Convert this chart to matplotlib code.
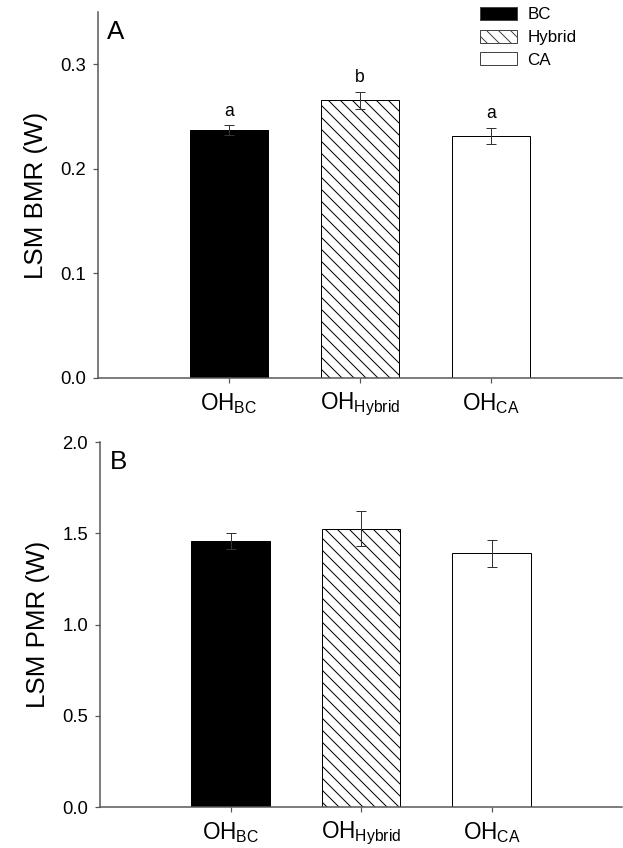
import matplotlib
matplotlib.use("Agg")
import matplotlib.pyplot as plt
from matplotlib.patches import Patch

plt.rcParams['font.family'] = ['Liberation Sans', 'DejaVu Sans']
plt.rcParams['mathtext.fontset'] = 'custom'
plt.rcParams['mathtext.rm'] = 'Liberation Sans'
plt.rcParams['mathtext.it'] = 'Liberation Sans'
plt.rcParams['hatch.linewidth'] = 1.0

categories = [r'OH$_{\mathrm{BC}}$', r'OH$_{\mathrm{Hybrid}}$', r'OH$_{\mathrm{CA}}$']
legend_labels = ['BC', 'Hybrid', 'CA']
bmr_values = [0.237, 0.2655, 0.2315]
bmr_errors = [0.0045, 0.008, 0.008]
bmr_letters = ['a', 'b', 'a']
pmr_values = [1.455, 1.526, 1.390]
pmr_errors = [0.044, 0.097, 0.073]
bmr_ticks = [0.0, 0.1, 0.2, 0.3]
pmr_ticks = [0.0, 0.5, 1.0, 1.5, 2.0]

DPI = 72
fig = plt.figure(figsize=(623 / DPI, 848 / DPI), dpi=DPI)

W, H = 623, 848
axA = fig.add_axes([98 / W, 1 - 378 / H, 524 / W, 366 / H])
axB = fig.add_axes([100 / W, 1 - 807 / H, 522 / W, 365 / H])

faces = ['black', 'white', 'white']
hatches = [None, '\\\\', None]
spine_col = '#555555'
x = [1, 2, 3]


def draw(ax, vals, errs, ticks, ylabel, letter, ymax):
    for xi, v, e, fc, h in zip(x, vals, errs, faces, hatches):
        ax.bar(xi, v, width=0.6, color=fc, edgecolor='black', linewidth=1.0,
               hatch=h, zorder=2)
    ax.errorbar(x, vals, yerr=errs, fmt='none', ecolor='#333333',
                elinewidth=1.0, capsize=5, capthick=1.0, zorder=3)
    ax.set_xlim(0, 4)
    ax.set_ylim(0, ymax)
    ax.set_xticks(x)
    ax.set_xticklabels(categories, fontsize=22.5)
    ax.set_yticks(ticks)
    ax.set_yticklabels([f'{t:.1f}' for t in ticks], fontsize=18.5)
    ax.set_ylabel(ylabel, fontsize=26, labelpad=12)
    for s in ['top', 'right']:
        ax.spines[s].set_visible(False)
    for s in ['left', 'bottom']:
        ax.spines[s].set_color(spine_col)
        ax.spines[s].set_linewidth(1.5)
    ax.tick_params(axis='both', direction='out', length=5, width=1.2,
                   color=spine_col)
    ax.tick_params(axis='x', pad=8)
    ax.tick_params(axis='y', pad=7)
    ax.text(0.018, 0.978, letter, transform=ax.transAxes, fontsize=26,
            ha='left', va='top')


draw(axA, bmr_values, bmr_errors, bmr_ticks, 'LSM BMR (W)', 'A', 0.35)
draw(axB, pmr_values, pmr_errors, pmr_ticks, 'LSM PMR (W)', 'B', 2.0)

for xi, v, e, lab in zip(x, bmr_values, bmr_errors, bmr_letters):
    axA.annotate(lab, xy=(xi, v + e), xytext=(0, 14), textcoords='offset points',
                 ha='center', va='center', fontsize=17.5)

handles = [Patch(facecolor=fc, edgecolor='#444444', hatch=h, linewidth=1.0)
           for fc, h in zip(faces, hatches)]
fig.legend(handles, legend_labels, loc='upper left',
           bbox_to_anchor=(480 / W, 1 - 7 / H), frameon=False, fontsize=17,
           handlelength=2.2, handleheight=0.8, handletextpad=0.6,
           labelspacing=0.42, borderpad=0, borderaxespad=0)

fig.savefig('out.png', dpi=DPI)
